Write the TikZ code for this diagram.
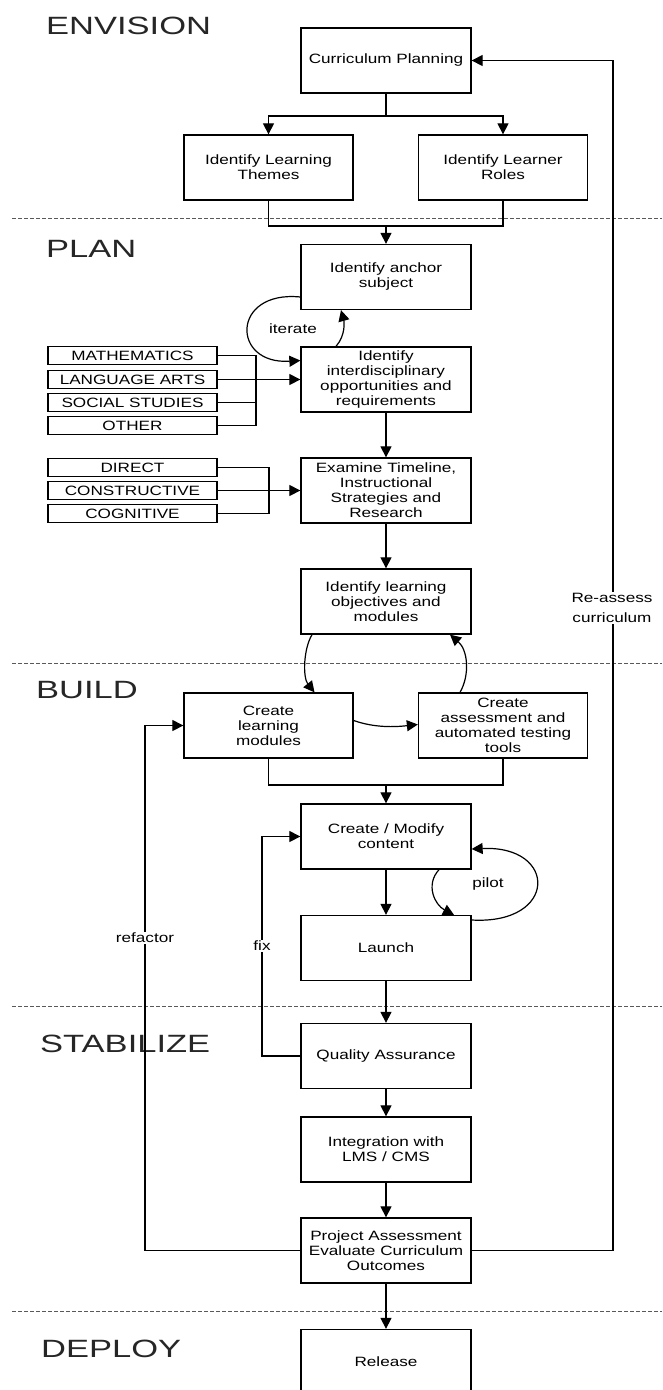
\documentclass[tikz,border=0pt]{standalone}
\usepackage{fontspec}
\setmainfont[FakeStretch=1.27]{Liberation Sans}
\newfontfamily\phasefont[FakeStretch=1.38]{Liberation Sans}
\usepackage{tikz}
\usetikzlibrary{arrows.meta}
\tikzset{>={Triangle[length=11pt,width=11pt]}}

\begin{document}
\begin{tikzpicture}[x=1pt,y=-1pt,
                          box/.style={draw, line width=1.3pt, minimum width=170pt, minimum height=65pt, align=center, inner sep=2pt, font=\fontsize{13.5}{15}\selectfont},
                          item/.style={draw, line width=1.3pt, minimum width=169pt, minimum height=18pt, inner sep=0pt, font=\fontsize{13.5}{15}\selectfont},
                          phase/.style={anchor=base west, inner sep=0pt, font=\phasefont\fontsize{25}{30}\selectfont, text=black!85},
                          link/.style={line width=1.2pt, ->},
                          plain/.style={line width=1.2pt},
                          tag/.style={fill=white, inner sep=1pt, align=center, font=\fontsize{13.5}{15}\selectfont},
                          sep/.style={dash pattern=on 4pt off 2pt, black!65, line width=1pt},
                         ]

\useasboundingbox (0,0) rectangle (662,1390);

\draw[sep] (12,218) -- (662,218);
\draw[sep] (12,663) -- (662,663);
\draw[sep] (12,1006) -- (662,1006);
\draw[sep] (12,1311) -- (662,1311);

\node[phase] (envision) at (46,34) {ENVISION};
\node[phase] (planlbl) at (46,257) {PLAN};
\node[phase] (build) at (36,698) {BUILD};
\node[phase] (stabilize) at (40,1052) {STABILIZE};
\node[phase] (deploy) at (41,1357) {DEPLOY};

\node[box] (plan) at (386,60.5) {Curriculum Planning};
\node[box, minimum width=169pt] (themes) at (268.5,167.5) {Identify Learning\\Themes};
\node[box, minimum width=169pt] (roles) at (503,167.5) {Identify Learner\\Roles};
\node[box] (anchor) at (386,277) {Identify anchor\\subject};
\node[box] (interdis) at (386,379.5) {Identify\\interdisciplinary\\opportunities and\\requirements};
\node[box] (examine) at (386,490.5) {Examine Timeline,\\Instructional\\Strategies and\\Research};
\node[box] (objectives) at (386,601.5) {Identify learning\\objectives and\\modules};
\node[box, minimum width=169pt] (modules) at (268.5,725.5) {Create\\learning\\modules};
\node[box, minimum width=169pt] (assess) at (503,725.5) {Create\\assessment and\\automated testing\\tools};
\node[box] (content) at (386,836.5) {Create / Modify\\content};
\node[box] (launch) at (386,948) {Launch};
\node[box] (qa) at (386,1056) {Quality Assurance};
\node[box] (integ) at (386,1149.5) {Integration with\\LMS / CMS};
\node[box] (project) at (386,1250.5) {Project Assessment\\Evaluate Curriculum\\Outcomes};
\node[box] (release) at (386,1362) {Release};

\node[item] (math) at (132.5,355.5) {MATHEMATICS};
\node[item] (lang) at (132.5,379.5) {LANGUAGE ARTS};
\node[item] (social) at (132.5,402.5) {SOCIAL STUDIES};
\node[item] (other) at (132.5,425.5) {OTHER};

\node[item] (direct) at (132.5,467.5) {DIRECT};
\node[item] (constr) at (132.5,490.5) {CONSTRUCTIVE};
\node[item] (cogn) at (132.5,513.5) {COGNITIVE};

\coordinate (split) at (386,116);
\coordinate (join1) at (386,226);
\coordinate (join2) at (386,785);
\coordinate (subjbar) at (256,355.5);
\coordinate (stratbar) at (269,467.5);
\coordinate (reassess) at (613,1250.5);
\coordinate (refbar) at (145,1250.5);
\coordinate (fixbar) at (262,1056);

\draw[plain] (plan) -- (split);
\draw[link] (split) -| (themes);
\draw[link] (split) -| (roles);
\draw[plain] (themes) |- (join1) -| (roles);
\draw[link] (join1) -- (anchor);

\draw[link] ([yshift=-20pt]anchor.west) .. controls (231,290) and (231,365) .. ([yshift=19pt]interdis.west);
\draw[link] ([xshift=-50pt]interdis.north) .. controls (346,335) and (344,321) .. ([xshift=-45pt]anchor.south);
\node (iterate) at (293,329) {\fontsize{13.5}{15}\selectfont iterate};

\draw[plain] (math.east) -- (subjbar) |- (other.east);
\draw[plain] (social.east) -- (social.east -| subjbar);
\draw[link] (lang) -- (interdis);
\draw[link] (interdis) -- (examine);

\draw[plain] (direct.east) -- (stratbar) |- (cogn.east);
\draw[link] (constr) -- (examine);
\draw[link] (examine) -- (objectives);

\draw[link] ([xshift=-74pt]objectives.south) .. controls (303,650) and (303,678) .. ([xshift=46pt]modules.north);
\draw[link] ([xshift=-43pt]assess.north) .. controls (470,675) and (468,650) .. ([xshift=64pt]objectives.south);
\draw[link] ([yshift=5pt]modules.east) .. controls (375,728) and (395,727) .. ([yshift=1pt]assess.west);

\draw[plain] (modules) |- (join2) -| (assess);
\draw[link] (join2) -- (content);
\draw[link] (content) -- (launch);

\draw[link] ([yshift=28pt]launch.east) .. controls (558,925) and (558,845) .. ([yshift=-12.5pt]content.east);
\draw[link] ([xshift=53pt]content.south) .. controls (425,885) and (435,905) .. ([xshift=68pt]launch.north);
\node (pilot) at (488,884) {\fontsize{13.5}{15}\selectfont pilot};

\draw[link] (launch) -- (qa);
\draw[link] (qa) -- (integ);
\draw[link] (integ) -- (project);
\draw[link] (project) -- (release);

\draw[link] (qa) -- (fixbar) |- (content);
\node[tag] (fix) at (262,946) {fix};
\draw[link] (project) -- (refbar) |- (modules);
\node[tag] (refactor) at (145,938) {refactor};
\draw[link] (project) -- (reassess) |- (plan);
\node[tag] (reassesslbl) at (612,608) {Re-assess\\[5pt]curriculum};

\end{tikzpicture}
\end{document}
